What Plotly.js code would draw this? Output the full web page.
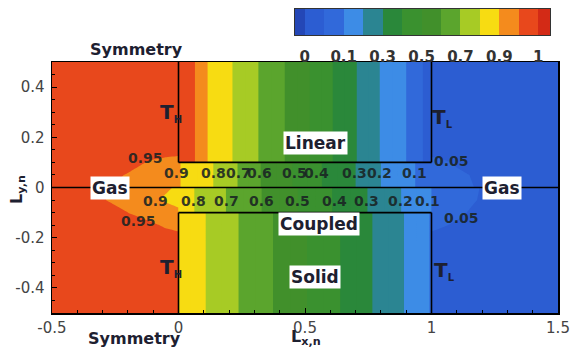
<!DOCTYPE html>
<html><head><meta charset="utf-8">
<script src="https://cdn.plot.ly/plotly-3.0.1.min.js"></script>
<style>html,body{margin:0;padding:0;background:#fff}#chart{width:571px;height:348px}</style>
</head><body><div id="chart"></div>
<script>
// ---- contour levels (non-uniform, as in the legend) ----
const levels = [0, 0.05, 0.1, 0.2, 0.3, 0.4, 0.5, 0.6, 0.7, 0.8, 0.9, 0.95, 1];
// colours: below 0, then one per level band, then above 1
const bandColors = ['#2447b6', '#2c5dd2', '#3169da', '#3d8ce6', '#2b8592', '#2a883a', '#3a912f',
                    '#41902b', '#5ba52d', '#a7cb25', '#f7dc12', '#f48b1d', '#e8481c', '#d32a16'];
const legendTickLevels = [0, 0.1, 0.3, 0.5, 0.7, 0.9, 1];

// ---- temperature field T(x, y) ----
const xGasLeft  = [-0.5, -0.4, -0.3, -0.2, -0.1, -0.05, -0.001];
const xSolid    = [0.001, 0.05, 0.1, 0.15, 0.2, 0.3, 0.4, 0.5, 0.6, 0.7, 0.8, 0.9, 0.95, 0.999];
const xGasRight = [1.001, 1.05, 1.1, 1.15, 1.2, 1.3, 1.5];
const yRows     = [-0.5, -0.2, -0.15, -0.101, -0.099, -0.05, -0.0005, 0.0005, 0.05, 0.099, 0.101, 0.15, 0.5];

const tSolidTop     = [1.0, 0.965, 0.915, 0.865, 0.813, 0.715, 0.62, 0.52, 0.41, 0.305, 0.195, 0.10, 0.062, 0.025];
const tChannelUpper = [0.905, 0.87, 0.83, 0.79, 0.74, 0.62, 0.54, 0.46, 0.37, 0.30, 0.20, 0.125, 0.09, 0.06];
const tChannelLower = [0.875, 0.81, 0.77, 0.73, 0.69, 0.62, 0.55, 0.48, 0.405, 0.335, 0.26, 0.185, 0.14, 0.105];
const tSolidBottom  = [0.895, 0.848, 0.806, 0.766, 0.728, 0.653, 0.581, 0.506, 0.43, 0.353, 0.273, 0.193, 0.14, 0.093];

const tGasLeft = [
  [0.98, 0.98, 0.98, 0.98, 0.98, 0.98, 0.98],
  [0.98, 0.98, 0.98, 0.975, 0.97, 0.965, 0.96],
  [0.98, 0.98, 0.975, 0.965, 0.955, 0.945, 0.94],
  [0.98, 0.975, 0.96, 0.95, 0.93, 0.92, 0.91],
  [0.98, 0.975, 0.96, 0.95, 0.93, 0.92, 0.91],
  [0.98, 0.97, 0.953, 0.93, 0.905, 0.895, 0.885],
  [0.98, 0.97, 0.955, 0.935, 0.915, 0.905, 0.895],
  [0.98, 0.97, 0.955, 0.94, 0.925, 0.915, 0.905],
  [0.98, 0.975, 0.96, 0.948, 0.935, 0.925, 0.915],
  [0.98, 0.98, 0.975, 0.96, 0.945, 0.94, 0.935],
  [0.98, 0.98, 0.975, 0.96, 0.945, 0.94, 0.935],
  [0.98, 0.98, 0.98, 0.975, 0.97, 0.965, 0.965],
  [0.98, 0.98, 0.98, 0.98, 0.98, 0.98, 0.98]
];
const tGasRight = [
  [0.02, 0.02, 0.02, 0.02, 0.02, 0.02, 0.02],
  [0.04, 0.035, 0.03, 0.025, 0.02, 0.02, 0.02],
  [0.06, 0.052, 0.045, 0.04, 0.035, 0.025, 0.02],
  [0.085, 0.07, 0.058, 0.048, 0.04, 0.03, 0.02],
  [0.085, 0.07, 0.058, 0.048, 0.04, 0.03, 0.02],
  [0.09, 0.08, 0.068, 0.056, 0.046, 0.03, 0.02],
  [0.09, 0.08, 0.07, 0.058, 0.048, 0.035, 0.02],
  [0.075, 0.07, 0.062, 0.053, 0.045, 0.03, 0.02],
  [0.07, 0.065, 0.058, 0.05, 0.04, 0.03, 0.02],
  [0.065, 0.055, 0.045, 0.035, 0.03, 0.02, 0.02],
  [0.065, 0.055, 0.045, 0.035, 0.03, 0.02, 0.02],
  [0.03, 0.03, 0.025, 0.02, 0.02, 0.02, 0.02],
  [0.02, 0.02, 0.02, 0.02, 0.02, 0.02, 0.02]
];

// geometry of the solid blocks
const solidEdges = [0, 1];
const channelHalf = 0.1;

// contour label texts
const upperLabels = ['0.9', '0.8', '0.7', '0.6', '0.5', '0.4', '0.3', '0.2', '0.1'];
const lowerLabels = ['0.9', '0.8', '0.7', '0.6', '0.5', '0.4', '0.3', '0.2', '0.1'];
const xTickVals = [-0.5, 0, 0.5, 1, 1.5];
const xTickText = ['-0.5', '0', '0.5', '1', '1.5'];
const yTickVals = [-0.4, -0.2, 0, 0.2, 0.4];
const yTickText = ['-0.4', '-0.2', '0', '0.2', '0.4'];

// ---- build ----
const xAll = xGasLeft.concat(xSolid, xGasRight);
const z = yRows.map((y, i) => {
  const mid = y > channelHalf ? tSolidTop : y > 0 ? tChannelUpper : y > -channelHalf ? tChannelLower : tSolidBottom;
  return tGasLeft[i].concat(mid, tGasRight[i]);
});

// colorscale on a uniform 0.05 contour grid reproducing the non-uniform bands
const step = 0.05, nSub = 20;
const cscale = [];
for (let j = 0; j < nSub; j++) {
  const m = step * j + step / 2;
  let b = 0;
  while (b < levels.length - 2 && m >= levels[b + 1]) b++;
  cscale.push([j / (nSub - 1), bandColors[b + 1]]);
}

const FONT = 'DejaVu Sans';
const contour = {
  type: 'contour', x: xAll, y: yRows, z: z,
  autocontour: false,
  contours: {start: step, end: 1 - step, size: step, coloring: 'fill', showlines: false},
  line: {width: 0, smoothing: 0},
  colorscale: cscale, showscale: false, hoverinfo: 'skip'
};

// legend strip (level index space)
const stripEdges = [-0.5].concat(levels.map((v, i) => i), [levels.length - 1 + 0.6]);
const strip = {
  type: 'heatmap', xaxis: 'x2', yaxis: 'y2',
  x: stripEdges, y: [0],
  z: [bandColors.map((c, i) => i)],
  zmin: 0, zmax: bandColors.length - 1,
  colorscale: bandColors.map((c, i) => [i / (bandColors.length - 1), c]),
  showscale: false, hoverinfo: 'skip'
};

const L = 52, R = 13, T = 9, B = 35, W = 571, H = 348;
const pw = W - L - R, ph = H - T - B;
const px2x = p => (p - L) / pw;
const py2y = p => (H - B - p) / ph;

const shapes = [];
const lineStyle = {color: '#000', width: 1.6};
[channelHalf, -channelHalf].forEach(yc => {
  const yEnd = yc > 0 ? 0.5 : -0.5;
  shapes.push({type: 'line', xref: 'x', yref: 'y', x0: solidEdges[0], x1: solidEdges[0], y0: yc, y1: yEnd, line: lineStyle});
  shapes.push({type: 'line', xref: 'x', yref: 'y', x0: solidEdges[1], x1: solidEdges[1], y0: yc, y1: yEnd, line: lineStyle});
  shapes.push({type: 'line', xref: 'x', yref: 'y', x0: solidEdges[0], x1: solidEdges[1], y0: yc, y1: yc, line: lineStyle});
});
shapes.push({type: 'line', xref: 'paper', yref: 'y', x0: 0, x1: 1, y0: 0, y1: 0, line: lineStyle});

const ann = [];
const boldDark = (size) => ({family: FONT, size: size, color: '#1d2030', weight: 'bold'});
const paperAnn = (px, py, text, font, extra) => Object.assign({xref: 'paper', yref: 'paper', x: px2x(px), y: py2y(py),
  xanchor: 'center', yanchor: 'middle', text: text, showarrow: false, font: font}, extra || {});
ann.push(paperAnn(136, 50, 'Symmetry', boldDark(16)));
ann.push(paperAnn(134, 338, 'Symmetry', boldDark(16)));
ann.push(paperAnn(306, 337, 'L<sub>x,n</sub>', boldDark(16)));
ann.push(paperAnn(17, 190, 'L<sub>y,n</sub>', boldDark(16), {textangle: -90}));
const boxed = [['Gas', -0.27, 0], ['Gas', 1.28, 0], ['Linear', 0.54, 0.177], ['Coupled', 0.555, -0.145], ['Solid', 0.54, -0.357]];
boxed.forEach(b => ann.push({xref: 'x', yref: 'y', x: b[1], y: b[2], text: b[0], showarrow: false,
  bgcolor: '#ffffff', borderpad: 1, font: boldDark(17)}));
const temps = [['H', -0.03, 0.30], ['H', -0.03, -0.32], ['L', 1.045, 0.28], ['L', 1.05, -0.33]];
temps.forEach(t => ann.push({xref: 'x', yref: 'y', x: t[1], y: t[2], showarrow: false,
  text: 'T<sub><span style="font-size:10px">' + t[0] + '</span></sub>', font: boldDark(20)}));
const upperX = [-0.008, 0.138, 0.236, 0.319, 0.46, 0.547, 0.697, 0.795, 0.933];
const lowerX = [-0.09, 0.06, 0.19, 0.327, 0.47, 0.618, 0.744, 0.878, 0.984];
const labFont = {family: FONT, size: 14, color: 'rgba(25,35,35,0.88)', weight: 'bold'};
upperLabels.forEach((t, i) => ann.push({xref: 'x', yref: 'y', x: upperX[i], y: 0.058, text: t, showarrow: false, font: labFont}));
lowerLabels.forEach((t, i) => ann.push({xref: 'x', yref: 'y', x: lowerX[i], y: -0.054, text: t, showarrow: false, font: labFont}));
[['0.95', -0.13, 0.117], ['0.95', -0.16, -0.133], ['0.05', 1.08, 0.105], ['0.05', 1.12, -0.122]].forEach(a =>
  ann.push({xref: 'x', yref: 'y', x: a[1], y: a[2], text: a[0], showarrow: false, font: labFont}));

const tickFont = {family: FONT, size: 15, color: '#444'};
const layout = {
  width: W, height: H, margin: {l: L, r: R, t: T, b: B, pad: 0},
  paper_bgcolor: '#fff', plot_bgcolor: '#fff', showlegend: false,
  xaxis: {domain: [0, 1], range: [-0.5, 1.5], tickvals: xTickVals, ticktext: xTickText,
    ticks: 'inside', ticklen: 5, tickcolor: '#000', showline: true, mirror: true, linecolor: '#000', linewidth: 1.5,
    showgrid: false, zeroline: false, tickfont: tickFont, anchor: 'y', fixedrange: true,
    minor: {ticks: 'inside', ticklen: 3, dtick: 0.1, tickcolor: '#000', showgrid: false}},
  yaxis: {domain: [0, py2y(62)], range: [-0.5, 0.5], tickvals: yTickVals, ticktext: yTickText,
    ticks: 'inside', ticklen: 5, tickcolor: '#000', showline: true, mirror: true, linecolor: '#000', linewidth: 1.5,
    showgrid: false, zeroline: false, tickfont: tickFont, anchor: 'x', fixedrange: true, ticklabelstandoff: 3,
    minor: {ticks: 'inside', ticklen: 3, dtick: 0.05, tickcolor: '#000', showgrid: false}},
  xaxis2: {domain: [px2x(295), px2x(550)], range: [-0.5, levels.length - 1 + 0.6], anchor: 'y2',
    tickvals: legendTickLevels.map(v => levels.indexOf(v)), ticktext: legendTickLevels.map(String),
    ticks: 'outside', ticklen: 8, tickcolor: 'rgba(0,0,0,0)', showline: true, mirror: true, linecolor: '#333', linewidth: 1,
    showgrid: false, zeroline: false, fixedrange: true,
    tickfont: {family: FONT, size: 15, color: '#333', weight: 'bold'}},
  yaxis2: {domain: [py2y(35), 1], range: [-0.5, 0.5], anchor: 'x2', showticklabels: false, ticks: '',
    showline: true, mirror: true, linecolor: '#333', linewidth: 1, showgrid: false, zeroline: false, fixedrange: true},
  shapes: shapes, annotations: ann
};
Plotly.newPlot('chart', [contour, strip], layout, {staticPlot: true, displayModeBar: false});
</script></body></html>
